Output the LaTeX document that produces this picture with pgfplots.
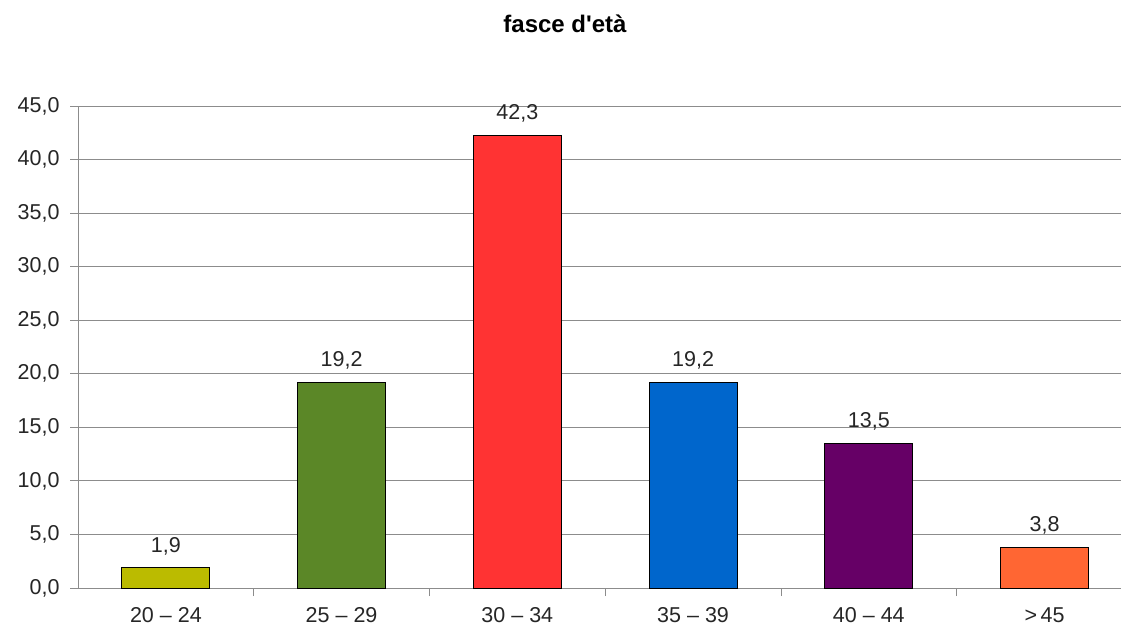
\documentclass[border=0pt]{standalone}
\usepackage{pgfplots}
\pgfplotsset{compat=1.18}
\usepackage{fontspec}
\setmainfont{Liberation Sans}

\definecolor{cOlive}{HTML}{BBBB00}
\definecolor{cGreen}{HTML}{5B8727}
\definecolor{cRed}{HTML}{FF3333}
\definecolor{cBlue}{HTML}{0066CC}
\definecolor{cPurple}{HTML}{660066}
\definecolor{cOrange}{HTML}{FF6633}
\definecolor{cGrid}{HTML}{8C8C8C}

\begin{document}
\begin{tikzpicture}
\begin{axis}[
    name=ax,
    scale only axis,
    width=1043bp, height=482bp,
    ybar, bar width=88bp, bar shift=0pt,
    xmin=-0.5, xmax=5.435,
    ymin=0, ymax=45,
    ytick={0,5,...,45},
    xtick={0,...,5},
    xticklabels={20 -- 24, 25 -- 29, 30 -- 34, 35 -- 39, 40 -- 44, \textgreater\,45},
    minor xtick={0.5,1.5,2.5,3.5,4.5},
    axis x line*=bottom, axis y line*=left,
    axis line style={draw=cGrid, line width=0.9pt},
    ymajorgrids=true,
    grid style={draw=cGrid, line width=0.9pt},
    tick align=outside,
    major tick length=8bp, minor tick length=8bp,
    major x tick style={draw=none},
    minor x tick style={draw=cGrid, line width=0.9pt},
    major y tick style={draw=cGrid, line width=0.9pt},
    tick label style={font=\fontsize{21.5bp}{24bp}\selectfont, text=black!85},
    yticklabel style={xshift=-7bp},
    xticklabel style={yshift=-8bp},
    /pgf/number format/.cd, fixed, fixed zerofill, precision=1, use comma,
    assume math mode=true,
    /pgfplots/.cd,
    nodes near coords,
    nodes near coords style={font=\fontsize{21.5bp}{24bp}\selectfont, text=black!85, yshift=9bp},
    every axis plot/.append style={draw=black, line width=0.8pt},
]
\addplot[fill=cOlive]  coordinates {(0,1.9)};
\addplot[fill=cGreen]  coordinates {(1,19.2)};
\addplot[fill=cRed]    coordinates {(2,42.3)};
\addplot[fill=cBlue]   coordinates {(3,19.2)};
\addplot[fill=cPurple] coordinates {(4,13.5)};
\addplot[fill=cOrange] coordinates {(5,3.8)};
\end{axis}
\node[anchor=base, font=\bfseries\fontsize{24bp}{28bp}\selectfont]
    at ([xshift=487bp,yshift=73bp]ax.north west) {fasce d\textquotesingle età};
\pgfresetboundingbox
\path[use as bounding box] ([xshift=-78bp,yshift=-44bp]ax.south west) rectangle ([yshift=106bp]ax.north east);
\end{tikzpicture}
\end{document}
